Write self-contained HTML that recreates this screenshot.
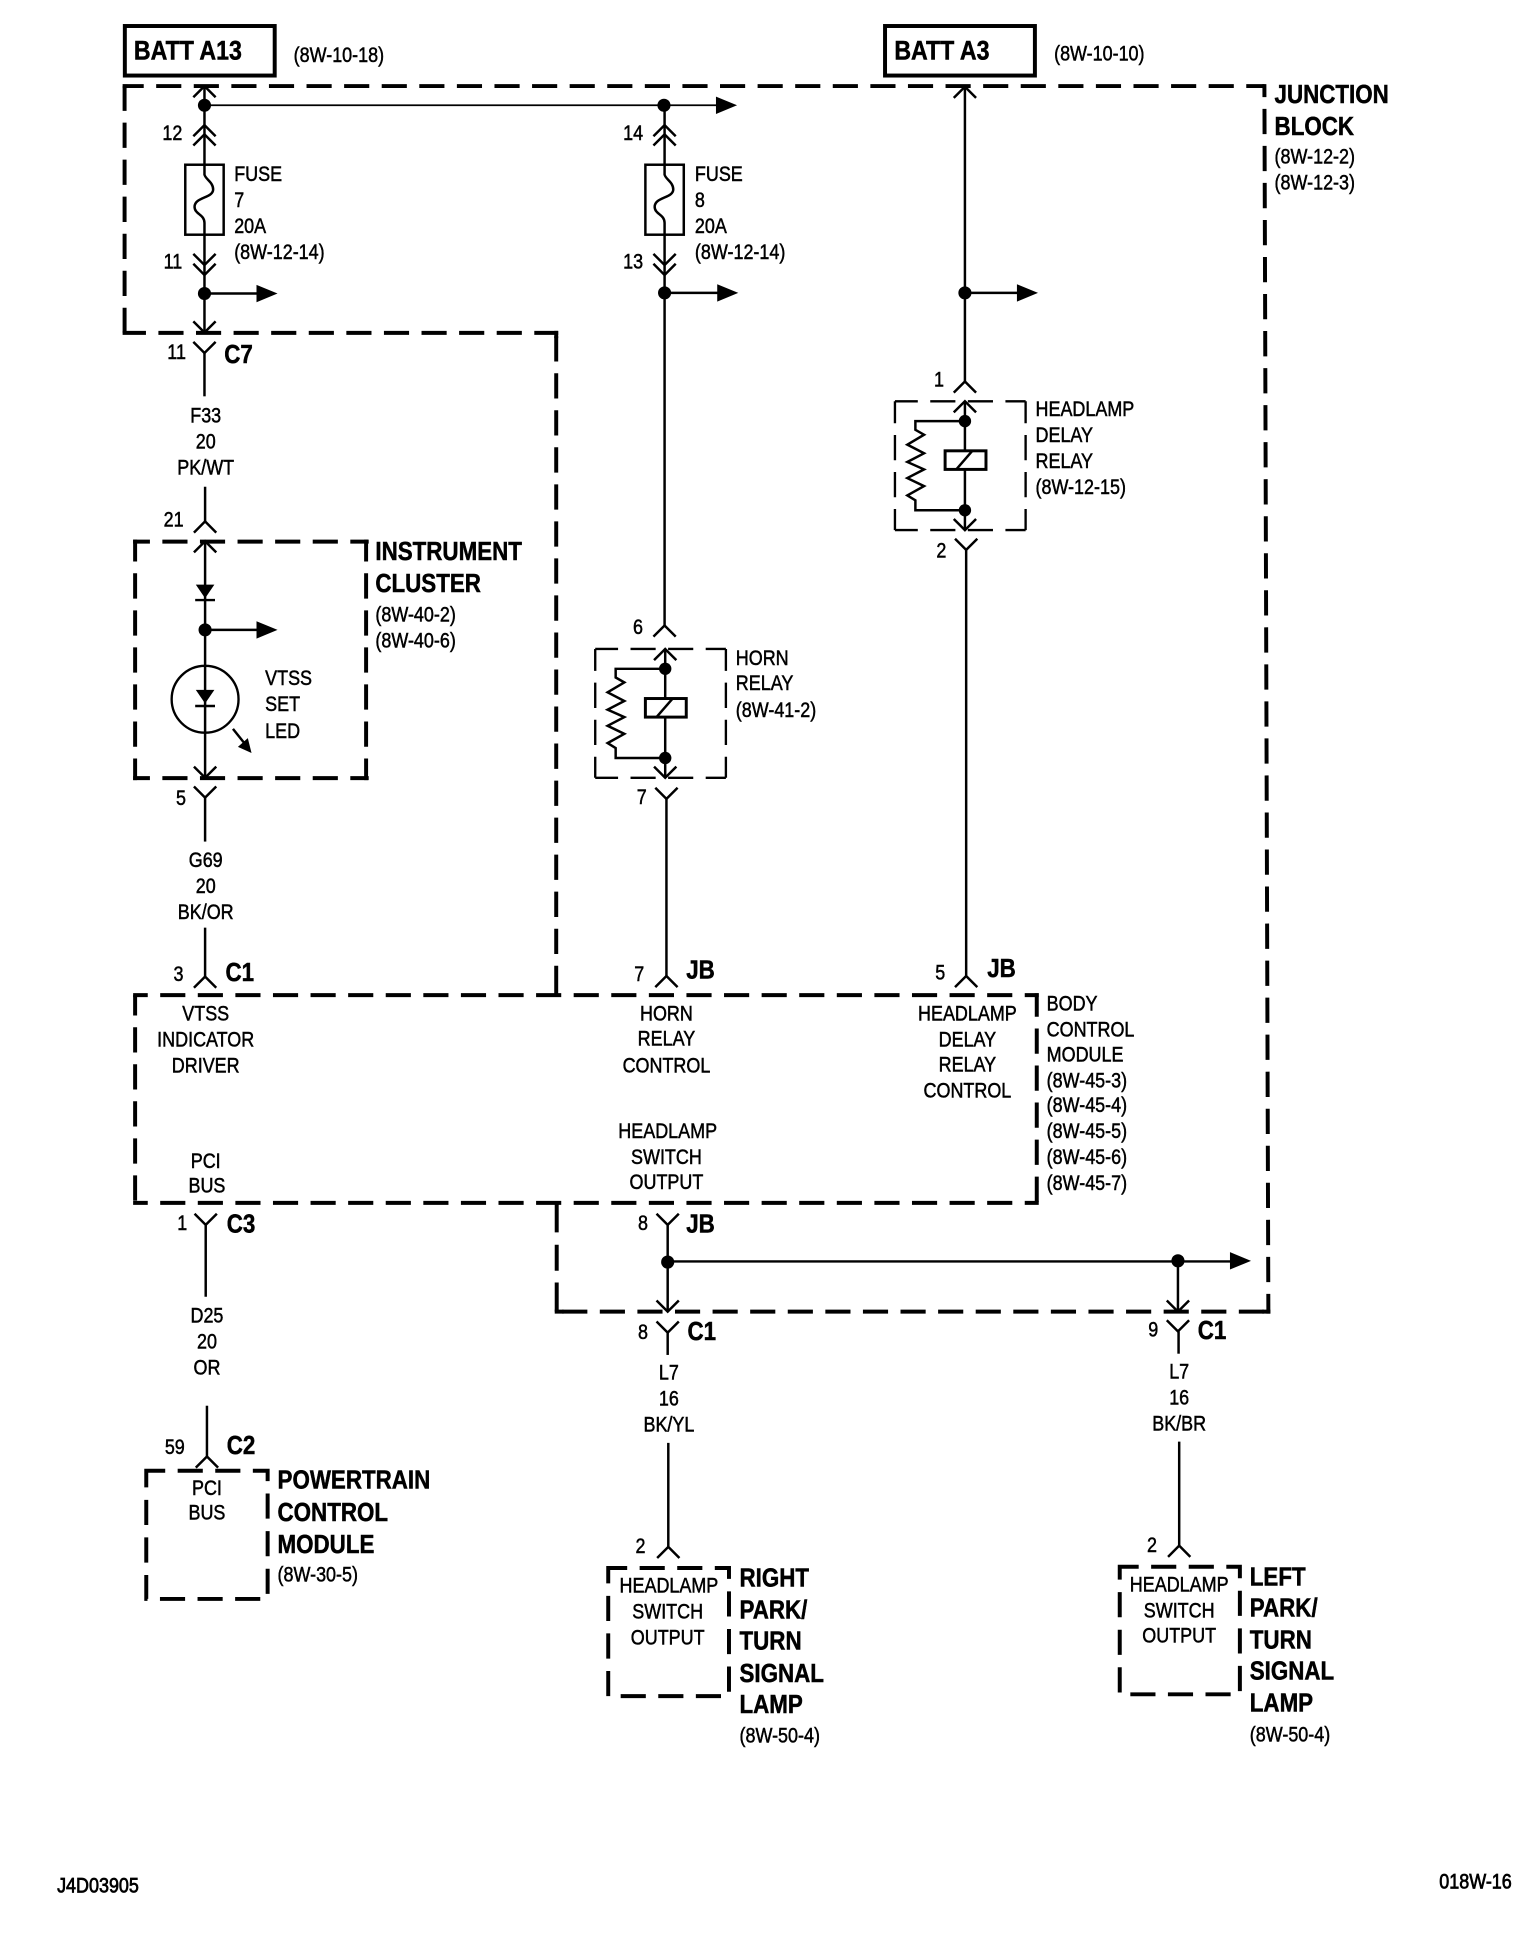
<!DOCTYPE html>
<html><head><meta charset="utf-8"><title>Wiring diagram</title>
<style>
html,body{margin:0;padding:0;background:#fff}
svg{display:block}
text{font-family:"Liberation Sans",sans-serif;font-size:16.8px;fill:#000;stroke:#000;stroke-width:.4px;transform-box:fill-box;transform-origin:0 50%;transform:scaleX(.863)}
.m{text-anchor:middle;transform-origin:50% 50%}
.b{font-weight:bold;font-size:20.7px;transform:scaleX(.872)}
.t{font-weight:bold;font-size:22px;transform:scaleX(.85)}
.w{fill:none;stroke:#000;stroke-width:2}
.n{fill:none;stroke:#000;stroke-width:1.4}
.s{fill:none;stroke:#000;stroke-width:3.2}
.dh{fill:none;stroke:#000;stroke-width:3.2;stroke-dasharray:20.3 10.05}
.dv{fill:none;stroke:#000;stroke-width:3.2;stroke-dasharray:20.4 9.5}
.dh2{fill:none;stroke:#000;stroke-width:1.9;stroke-dasharray:20.3 10.05;stroke-dashoffset:1.85}
.dv2{fill:none;stroke:#000;stroke-width:1.9;stroke-dasharray:20.4 9.5;stroke-dashoffset:2.7}
</style></head><body>
<svg xmlns="http://www.w3.org/2000/svg" width="1536" height="1942" viewBox="0 0 1240 1568">
<rect width="1240" height="1568" fill="#fff"/>
<defs>
<path id="u" d="M-9 9L0 0L9 9" fill="none" stroke="#000" stroke-width="2"/>
<path id="v" d="M-9 -9L0 0L9 -9" fill="none" stroke="#000" stroke-width="2"/>
<polygon id="h" points="0,-7 17,0 0,7" fill="#000"/>
<g id="fuse">
<rect x="149.5" y="133" width="31" height="56.5" fill="#fff" stroke="#000" stroke-width="2"/>
<path d="M165 133V141C166 145 172 147 172 153C172 160 157 159 157 167C157 173 165 173 165 180V189.5" fill="none" stroke="#000" stroke-width="2"/>
</g>
<g id="relay">
<path class="dh2" d="M722.5 324H828M722.5 428H828"/>
<path class="dv2" d="M722.5 324V428M828 324V428"/>
<path class="w" d="M779 324V428"/>
<use href="#u" x="779" y="324"/><use href="#v" x="779" y="428"/>
<circle cx="779" cy="340" r="5"/><circle cx="779" cy="412" r="5"/>
<path class="w" d="M779 340H739V347L746 351L732.5 359L746 366L732.5 373L746 379L732.5 386L746 392.5L732.5 400L739 404V412H779"/>
<rect x="763" y="364" width="33" height="15" fill="#fff" stroke="#000" stroke-width="2.4"/>
<path class="w" d="M772 379L785 364"/>
</g>
</defs>

<!-- top boxes -->
<rect x="100.7" y="21" width="121" height="40" fill="none" stroke="#000" stroke-width="3.2"/>
<rect x="714.5" y="21" width="121" height="40" fill="none" stroke="#000" stroke-width="3.2"/>

<!-- junction block -->
<path class="dh" stroke-dashoffset="3.25" d="M98.9 69.5H1020.8"/>
<path class="dv" stroke-dashoffset=".4" d="M100.5 69.5V268.8"/>
<path class="dh" stroke-dashoffset="1.45" d="M98.9 268.8H450.6"/>
<path class="s" d="M449 267.2V273M449 800V804"/>
<path class="dv" stroke-dashoffset="-2.66" d="M449 268.8V804"/>
<path class="dv" stroke-dashoffset="9.9" d="M1020.8 67.9L1024 1060.6"/>
<path class="dh" stroke-dashoffset="-6.05" d="M447.8 1059H1025.6"/>
<path class="s" d="M447.8 1059H455M1019 1059H1025.6"/>
<path class="s" d="M449.4 971V995M449.4 1005V1026M449.4 1035.5V1059"/>

<!-- instrument cluster -->
<path class="dh" stroke-dashoffset="6.75" d="M107.4 437.3H297.6M107.4 628.3H297.6"/>
<path class="dv" stroke-dashoffset="2.7" d="M109 435.7V629.9M295.5 435.7V629.9"/>
<!-- BCM -->
<path class="dh" stroke-dashoffset="8.5" d="M107.4 803.5H838.6M107.4 971.2H838.6"/>
<path class="dv" stroke-dashoffset="4" d="M109 803.5V971.2"/>
<path class="dv" stroke-dashoffset="1.5" d="M837 802V972"/>
<!-- small boxes -->
<path class="dh" stroke-dashoffset="5" d="M118 1187.5H216V1291H118Z"/>
<path class="dh" stroke-dashoffset="5" d="M491 1266H588.5V1369.5H491Z"/>
<path class="dh" stroke-dashoffset="5" d="M904 1265H1001V1368H904Z"/>

<!-- fuse 7 branch -->
<path class="w" d="M165 70V268.5"/>
<use href="#u" x="165" y="69.5"/>
<circle cx="165" cy="85" r="5.3"/>
<path class="n" d="M165 85H580"/>
<use href="#h" x="578" y="85"/>
<use href="#u" x="165" y="101"/><use href="#u" x="165" y="108.5"/>
<use href="#fuse"/>
<use href="#v" x="165" y="214"/><use href="#v" x="165" y="222"/>
<circle cx="165" cy="237" r="5.3"/>
<path class="w" d="M165 237H208"/><use href="#h" x="207" y="237"/>
<use href="#v" x="165" y="268.5"/>
<use href="#v" x="165" y="285"/>
<path class="w" d="M165 285V320"/>

<path class="w" d="M165.5 393V421"/>
<use href="#u" x="165.5" y="421"/>
<use href="#u" x="165.5" y="437"/>
<path class="w" d="M165.5 437V628"/>
<polygon points="158,472 173,472 165.5,483"/>
<path class="w" d="M157.5 484.5H173.5"/>
<circle cx="165.5" cy="508.6" r="5.3"/>
<path class="w" d="M165.5 508.6H208"/><use href="#h" x="207" y="508.6"/>
<circle cx="165.5" cy="564.6" r="27" fill="none" stroke="#000" stroke-width="1.9"/>
<polygon points="158,557 173,557 165.5,568"/>
<path class="w" d="M157.5 570H173.5"/>
<path class="w" d="M188 588.5L198 601"/>
<polygon points="192,603 200,596 203,608"/>
<use href="#v" x="165.5" y="628"/>
<use href="#v" x="165.5" y="644"/>
<path class="w" d="M165.5 644V679.5"/>
<path class="w" d="M165.5 749V788.5"/>
<use href="#u" x="165.5" y="788.5"/>

<!-- fuse 8 branch -->
<path class="w" d="M536.5 85V505"/>
<circle cx="536" cy="85" r="5.3"/>
<use href="#u" x="536.5" y="101"/><use href="#u" x="536.5" y="108.5"/>
<use href="#fuse" transform="translate(371.5,0)"/>
<use href="#v" x="536.5" y="214"/><use href="#v" x="536.5" y="222"/>
<circle cx="536.5" cy="236.5" r="5.3"/>
<path class="w" d="M536.5 236.5H580"/><use href="#h" x="579" y="236.5"/>
<use href="#u" x="536.5" y="505"/>
<use href="#relay" transform="translate(-242,200)"/>
<use href="#v" x="538" y="645"/>
<path class="w" d="M538 645V788"/>
<use href="#u" x="538" y="788"/>

<!-- headlamp branch -->
<path class="w" d="M779 70V308"/>
<use href="#u" x="779" y="70"/>
<circle cx="779" cy="236.5" r="5.3"/>
<path class="w" d="M779 236.5H822"/><use href="#h" x="821" y="236.5"/>
<use href="#u" x="779" y="308"/>
<use href="#relay"/>
<use href="#v" x="780" y="444"/>
<path class="w" d="M780 444V788"/>
<use href="#u" x="780" y="788"/>

<!-- below BCM -->
<use href="#v" x="166" y="989"/>
<path class="w" d="M166 989V1047"/>
<path class="w" d="M167 1135V1176"/>
<use href="#u" x="167" y="1176"/>

<use href="#v" x="539" y="989"/>
<path class="w" d="M539 989V1059"/>
<circle cx="539" cy="1019" r="5.3"/>
<path class="w" d="M539 1018.5H994"/>
<use href="#h" x="993" y="1018"/>
<circle cx="951" cy="1018" r="5.3"/>
<path class="w" d="M951 1018V1059"/>
<use href="#v" x="539" y="1059"/>
<use href="#v" x="951" y="1059"/>
<use href="#v" x="539" y="1076"/>
<path class="w" d="M539 1076V1094"/>
<use href="#v" x="951" y="1075"/>
<path class="w" d="M951.5 1075V1093"/>
<path class="w" d="M539.5 1165V1249"/>
<use href="#u" x="539.5" y="1249"/>
<path class="w" d="M952 1164V1248"/>
<use href="#u" x="952" y="1248"/>

<!-- text -->
<text class="t" x="108" y="48">BATT A13</text>
<text x="237" y="50">(8W-10-18)</text>
<text class="t" x="722" y="48">BATT A3</text>
<text x="851" y="49">(8W-10-10)</text>

<text class="b" x="1029" y="83">JUNCTION</text>
<text class="b" x="1029" y="109">BLOCK</text>
<text x="1029" y="132">(8W-12-2)</text>
<text x="1029" y="153">(8W-12-3)</text>

<text x="131" y="113">12</text>
<text x="503" y="113">14</text>
<text x="132" y="217">11</text>
<text x="503" y="217">13</text>
<text x="135" y="290">11</text>
<text class="b" x="181" y="293">C7</text>

<text x="189" y="146">FUSE</text>
<text x="189" y="167">7</text>
<text x="189" y="188">20A</text>
<text x="189" y="209">(8W-12-14)</text>
<text x="561" y="146">FUSE</text>
<text x="561" y="167">8</text>
<text x="561" y="188">20A</text>
<text x="561" y="209">(8W-12-14)</text>

<text class="m" x="166" y="341">F33</text>
<text class="m" x="166" y="362">20</text>
<text class="m" x="166" y="383">PK/WT</text>
<text x="132" y="425">21</text>

<text class="b" x="303" y="452">INSTRUMENT</text>
<text class="b" x="303" y="478">CLUSTER</text>
<text x="303" y="502">(8W-40-2)</text>
<text x="303" y="523">(8W-40-6)</text>
<text x="214" y="553">VTSS</text>
<text x="214" y="574">SET</text>
<text x="214" y="596">LED</text>

<text x="142" y="650">5</text>
<text class="m" x="166" y="700">G69</text>
<text class="m" x="166" y="721">20</text>
<text class="m" x="166" y="742">BK/OR</text>
<text x="140" y="792">3</text>
<text class="b" x="182" y="792">C1</text>

<text x="511" y="512">6</text>
<text x="514" y="649">7</text>
<text x="594" y="537">HORN</text>
<text x="594" y="557">RELAY</text>
<text x="594" y="579">(8W-41-2)</text>

<text x="754" y="312">1</text>
<text x="756" y="450">2</text>
<text x="836" y="336">HEADLAMP</text>
<text x="836" y="357">DELAY</text>
<text x="836" y="378">RELAY</text>
<text x="836" y="399">(8W-12-15)</text>

<text x="512" y="792">7</text>
<text class="b" x="554" y="790">JB</text>
<text x="755" y="791">5</text>
<text class="b" x="797" y="789">JB</text>

<text class="m" x="166" y="824">VTSS</text>
<text class="m" x="166" y="845">INDICATOR</text>
<text class="m" x="166" y="866">DRIVER</text>
<text class="m" x="538" y="824">HORN</text>
<text class="m" x="538" y="844">RELAY</text>
<text class="m" x="538" y="866">CONTROL</text>
<text class="m" x="781" y="824">HEADLAMP</text>
<text class="m" x="781" y="845">DELAY</text>
<text class="m" x="781" y="865">RELAY</text>
<text class="m" x="781" y="886">CONTROL</text>
<text x="845" y="816">BODY</text>
<text x="845" y="837">CONTROL</text>
<text x="845" y="857">MODULE</text>
<text x="845" y="878">(8W-45-3)</text>
<text x="845" y="898">(8W-45-4)</text>
<text x="845" y="919">(8W-45-5)</text>
<text x="845" y="940">(8W-45-6)</text>
<text x="845" y="961">(8W-45-7)</text>
<text class="m" x="539" y="919">HEADLAMP</text>
<text class="m" x="538" y="940">SWITCH</text>
<text class="m" x="538" y="960">OUTPUT</text>
<text class="m" x="166" y="943">PCI</text>
<text class="m" x="167" y="963">BUS</text>

<text x="143" y="993">1</text>
<text class="b" x="183" y="995">C3</text>
<text x="515" y="993">8</text>
<text class="b" x="554" y="995">JB</text>
<text x="515" y="1081">8</text>
<text class="b" x="555" y="1082">C1</text>
<text x="927" y="1079">9</text>
<text class="b" x="967" y="1081">C1</text>

<text class="m" x="167" y="1068">D25</text>
<text class="m" x="167" y="1089">20</text>
<text class="m" x="167" y="1110">OR</text>
<text class="m" x="540" y="1114">L7</text>
<text class="m" x="540" y="1135">16</text>
<text class="m" x="540" y="1156">BK/YL</text>
<text class="m" x="952" y="1113">L7</text>
<text class="m" x="952" y="1134">16</text>
<text class="m" x="952" y="1155">BK/BR</text>

<text x="133" y="1174">59</text>
<text class="b" x="183" y="1174">C2</text>
<text class="m" x="167" y="1207">PCI</text>
<text class="m" x="167" y="1227">BUS</text>
<text class="b" x="224" y="1202">POWERTRAIN</text>
<text class="b" x="224" y="1228">CONTROL</text>
<text class="b" x="224" y="1254">MODULE</text>
<text x="224" y="1277">(8W-30-5)</text>

<text x="513" y="1254">2</text>
<text class="m" x="540" y="1286">HEADLAMP</text>
<text class="m" x="539" y="1307">SWITCH</text>
<text class="m" x="539" y="1328">OUTPUT</text>
<text class="b" x="597" y="1281">RIGHT</text>
<text class="b" x="597" y="1307">PARK/</text>
<text class="b" x="597" y="1332">TURN</text>
<text class="b" x="597" y="1358">SIGNAL</text>
<text class="b" x="597" y="1383">LAMP</text>
<text x="597" y="1407">(8W-50-4)</text>

<text x="926" y="1253">2</text>
<text class="m" x="952" y="1285">HEADLAMP</text>
<text class="m" x="952" y="1306">SWITCH</text>
<text class="m" x="952" y="1326">OUTPUT</text>
<text class="b" x="1009" y="1280">LEFT</text>
<text class="b" x="1009" y="1305">PARK/</text>
<text class="b" x="1009" y="1331">TURN</text>
<text class="b" x="1009" y="1356">SIGNAL</text>
<text class="b" x="1009" y="1382">LAMP</text>
<text x="1009" y="1406">(8W-50-4)</text>

<text x="46" y="1528" style="stroke-width:.6px">J4D03905</text>
<text x="1162" y="1525" style="stroke-width:.6px">018W-16</text>
</svg>
</body></html>
